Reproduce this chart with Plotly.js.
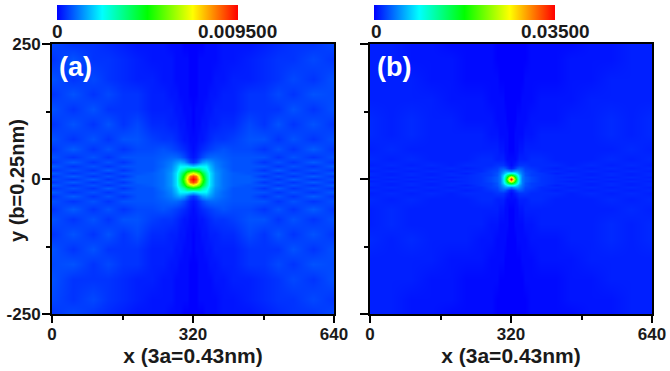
<!DOCTYPE html>
<html>
<head>
<meta charset="utf-8">
<script src="https://cdn.plot.ly/plotly-3.0.1.min.js"></script>
<style>html,body{margin:0;padding:0;background:#fff}</style>
</head>
<body>
<div id="myDiv" style="width:670px;height:371px"></div>
<script>
var tickX = [0, 320, 640];
var tickY = [-250, 0, 250];
var tickYLabels = ['-250', '0', '250'];
var minorX = [160, 480];
var minorY = [-125, 125];
var xTitle = 'x (3a=0.43nm)';
var yTitle = 'y (b=0.25nm)';

var scaleMaxA = 0.0095;
var scaleMaxB = 0.035;
var scaleLabelsA = ['0', '0.009500'];
var scaleLabelsB = ['0', '0.03500'];

// grid is finer near the centre spot
var xA = [0,47,93,127,160,193,227,252,270,281,290,300,306,313,320,327,334,340,350,359,370,388,411,447,480,513,547,593,640];
var yA = [-250,-222,-185,-157,-130,-102,-74,-56,-41,-31,-24,-17,-11,-6,0,6,11,17,24,31,41,56,74,102,130,157,185,222,250];

// percent of the colour bar, bottom row first
var zA = [
[5,7,5,4,3,2,2,2,1,1,1,0,0,0,0,0,0,0,1,1,1,2,2,2,3,4,5,5,7],
[7,5,7,5,4,3,2,2,2,1,1,1,1,0,0,0,1,1,1,1,1,2,2,3,4,5,5,7,5],
[8,5,5,5,4,3,3,2,2,1,1,1,1,0,0,0,1,1,1,1,2,2,3,3,4,5,7,5,8],
[7,8,5,7,5,5,3,3,2,2,1,1,1,0,0,0,1,1,1,2,2,3,3,5,5,7,5,8,7],
[8,5,8,5,5,5,3,3,3,2,2,1,1,1,0,1,1,1,2,2,3,3,3,5,5,5,8,5,8],
[5,8,5,8,5,7,4,4,3,3,2,2,1,1,0,1,1,2,2,3,3,4,4,7,5,8,5,8,5],
[8,5,8,5,8,8,6,5,5,4,3,2,2,1,1,1,2,2,3,4,5,5,6,8,8,5,8,5,8],
[5,9,5,8,5,7,7,8,7,6,5,4,3,2,1,2,3,4,5,6,7,8,7,7,5,8,5,9,5],
[8,5,8,5,8,8,8,9,10,10,9,7,5,3,2,3,5,7,9,10,10,9,8,8,8,5,8,5,8],
[5,9,5,8,5,8,8,10,12,15,17,15,11,7,5,7,11,15,17,15,12,10,8,8,5,8,5,9,5],
[9,5,8,5,8,8,8,10,13,18,24,24,24,22,20,22,24,24,24,18,13,10,8,8,8,5,8,5,9],
[5,8,5,9,5,8,8,11,14,20,28,34,42,46,48,46,42,34,28,20,14,11,8,8,5,9,5,8,5],
[9,5,8,5,8,8,9,11,15,22,33,46,60,68,74,68,60,46,33,22,15,11,9,8,8,5,8,5,9],
[5,9,5,8,5,9,9,11,15,22,36,54,72,88,94,88,72,54,36,22,15,11,9,9,5,8,5,9,5],
[8,5,9,5,8,9,9,11,15,22,38,58,78,94,100,94,78,58,38,22,15,11,9,9,8,5,9,5,8],
[5,9,5,8,5,9,9,11,15,22,36,54,72,88,94,88,72,54,36,22,15,11,9,9,5,8,5,9,5],
[9,5,8,5,8,8,9,11,15,22,33,46,60,68,74,68,60,46,33,22,15,11,9,8,8,5,8,5,9],
[5,8,5,9,5,8,8,11,14,20,28,34,42,46,48,46,42,34,28,20,14,11,8,8,5,9,5,8,5],
[9,5,8,5,8,8,8,10,13,18,24,24,24,22,20,22,24,24,24,18,13,10,8,8,8,5,8,5,9],
[5,9,5,8,5,8,8,10,12,15,17,15,11,7,5,7,11,15,17,15,12,10,8,8,5,8,5,9,5],
[8,5,8,5,8,8,8,9,10,10,9,7,5,3,2,3,5,7,9,10,10,9,8,8,8,5,8,5,8],
[5,9,5,8,5,7,7,8,7,6,5,4,3,2,1,2,3,4,5,6,7,8,7,7,5,8,5,9,5],
[8,5,8,5,8,8,6,5,5,4,3,2,2,1,1,1,2,2,3,4,5,5,6,8,8,5,8,5,8],
[5,8,5,8,5,7,4,4,3,3,2,2,1,1,0,1,1,2,2,3,3,4,4,7,5,8,5,8,5],
[8,5,8,5,5,5,3,3,3,2,2,1,1,1,0,1,1,1,2,2,3,3,3,5,5,5,8,5,8],
[5,8,5,7,5,5,3,3,2,2,1,1,1,0,0,0,1,1,1,2,2,3,3,5,5,7,5,8,7],
[8,5,7,5,4,3,3,2,2,1,1,1,1,0,0,0,1,1,1,1,2,2,3,3,4,5,7,5,8],
[5,8,5,5,4,3,2,2,2,1,1,1,1,0,0,0,1,1,1,1,1,2,2,3,4,5,5,7,5],
[7,5,5,4,3,2,2,2,1,1,1,0,0,0,0,0,0,0,1,1,1,2,2,2,3,4,5,5,7]
];

var xB = [0,47,93,138,184,218,252,275,288,295,302,306,311,315,320,325,329,334,338,345,352,365,388,422,456,502,547,593,640];
var yB = [-250,-222,-185,-148,-111,-83,-56,-37,-26,-20,-15,-11,-7,-4,0,4,7,11,15,20,26,37,56,83,111,148,185,222,250];

var zB = [
[3,3,2,2,1,1,1,1,0,0,0,0,0,0,0,0,0,0,0,0,0,1,1,1,1,2,2,3,3],
[3,3,2,2,2,1,1,1,0,0,0,0,0,0,0,0,0,0,0,0,0,1,1,1,2,2,2,3,3],
[3,3,3,2,2,1,1,1,1,0,0,0,0,0,0,0,0,0,0,0,1,1,1,1,2,2,3,3,3],
[3,3,3,3,2,2,2,1,1,1,1,0,0,0,0,0,0,0,0,1,1,1,2,2,2,3,3,3,3],
[4,3,4,3,3,3,2,2,1,1,1,1,0,0,0,0,0,1,1,1,1,2,2,2,3,3,4,3,4],
[3,4,3,3,3,3,3,2,2,1,1,1,1,0,0,0,1,1,1,1,2,2,3,3,3,3,4,3,4],
[3,4,3,3,3,3,3,3,3,2,2,1,1,0,0,0,1,1,2,2,3,3,3,3,3,3,3,4,3],
[4,3,4,3,3,3,4,4,3,3,3,2,1,1,1,1,1,2,3,3,3,4,4,3,3,3,4,3,4],
[3,4,3,4,3,4,4,4,5,5,5,4,3,2,1,2,3,4,5,5,5,4,4,4,3,4,3,4,3],
[4,3,4,3,4,3,4,5,6,8,9,8,6,4,3,4,6,8,9,8,6,5,4,3,4,3,4,3,4],
[3,4,3,4,3,4,4,6,7,10,13,15,15,14,12,14,15,15,13,10,7,6,4,4,3,4,3,4,3],
[4,3,4,3,4,3,5,6,8,11,16,20,24,27,28,27,24,20,16,11,8,6,5,3,4,3,4,3,4],
[4,3,4,3,4,4,5,6,8,12,20,28,38,46,52,46,38,28,20,12,8,6,5,4,4,3,4,3,4],
[3,4,3,4,3,4,5,7,9,12,22,34,50,68,80,68,50,34,22,12,9,7,5,4,3,4,3,4,3],
[4,3,4,3,4,4,5,7,9,12,22,38,58,80,100,80,58,38,22,12,9,7,5,4,4,3,4,3,4],
[3,4,3,4,3,4,5,7,9,12,22,34,50,68,80,68,50,34,22,12,9,7,5,4,3,4,3,4,3],
[4,3,4,3,4,4,5,6,8,12,20,28,38,46,52,46,38,28,20,12,8,6,5,4,4,3,4,3,4],
[4,3,4,3,4,3,5,6,8,11,16,20,24,27,28,27,24,20,16,11,8,6,5,3,4,3,4,3,4],
[3,4,3,4,3,4,4,6,7,10,13,15,15,14,12,14,15,15,13,10,7,6,4,4,3,4,3,4,3],
[4,3,4,3,4,3,4,5,6,8,9,8,6,4,3,4,6,8,9,8,6,5,4,3,4,3,4,3,4],
[3,4,3,4,3,4,4,4,5,5,5,4,3,2,1,2,3,4,5,5,5,4,4,4,3,4,3,4,3],
[4,3,4,3,3,3,4,4,3,3,3,2,1,1,1,1,1,2,3,3,3,4,4,3,3,3,4,3,4],
[3,4,3,3,3,3,3,3,3,2,2,1,1,0,0,0,1,1,2,2,3,3,3,3,3,3,3,4,3],
[4,3,4,3,3,3,3,2,2,1,1,1,1,0,0,0,1,1,1,1,2,2,3,3,3,3,4,3,4],
[4,3,4,3,3,2,2,2,1,1,1,1,0,0,0,0,0,1,1,1,1,2,2,2,3,3,4,3,4],
[3,3,3,3,2,2,2,1,1,1,1,0,0,0,0,0,0,0,0,1,1,1,2,2,2,3,3,3,3],
[3,3,3,2,2,1,1,1,1,0,0,0,0,0,0,0,0,0,0,0,1,1,1,1,2,2,3,3,3],
[3,3,2,2,2,1,1,1,0,0,0,0,0,0,0,0,0,0,0,0,0,1,1,1,2,2,2,3,3],
[3,3,2,2,1,1,1,1,0,0,0,0,0,0,0,0,0,0,0,0,0,1,1,1,1,2,2,3,3]
];

var rainbow = [[0, 'rgb(0,0,255)'], [0.25, 'rgb(0,255,255)'], [0.5, 'rgb(0,255,0)'], [0.75, 'rgb(255,255,0)'], [1, 'rgb(255,0,0)']];
var fontName = '"Liberation Sans", Arial, sans-serif';
var textColor = '#1a1a1a';
var boldTicks = {family: fontName, size: 17, color: textColor, weight: 'bold'};

function toValues(rows, scaleMax) {
  return rows.map(function (row) {
    return row.map(function (v) { return v * scaleMax / 100; });
  });
}

function heatTrace(x, y, z, scaleMax, barLeft, xa, ya) {
  return {
    type: 'heatmap',
    x: x,
    y: y,
    z: toValues(z, scaleMax),
    xaxis: xa,
    yaxis: ya,
    zmin: 0,
    zmax: scaleMax,
    zsmooth: 'best',
    colorscale: rainbow,
    hoverinfo: 'skip',
    colorbar: {
      orientation: 'h',
      xref: 'container',
      yref: 'container',
      x: barLeft,
      xanchor: 'left',
      y: 1 - 5 / 371,
      yanchor: 'top',
      lenmode: 'pixels',
      len: 181,
      thickness: 15,
      xpad: 0,
      ypad: 0,
      outlinewidth: 0,
      ticks: '',
      showticklabels: false
    }
  };
}

function xAxis(domain, anchor) {
  return {
    domain: domain,
    anchor: anchor,
    range: [0, 640],
    tickmode: 'array',
    tickvals: tickX,
    ticks: 'outside',
    ticklen: 7,
    tickwidth: 2,
    tickcolor: '#000',
    ticklabelstandoff: -3,
    minor: {tickmode: 'array', tickvals: minorX, ticks: 'outside', ticklen: 4, tickwidth: 2, tickcolor: '#000'},
    showline: true,
    mirror: true,
    linecolor: '#000',
    linewidth: 2,
    showgrid: false,
    zeroline: false,
    tickfont: boldTicks,
    title: {text: '<b>' + xTitle + '</b>', standoff: 0, font: {family: fontName, size: 21, color: textColor}}
  };
}

function yAxis(anchor, showLabels) {
  return {
    domain: [0, 1],
    anchor: anchor,
    range: [-250, 250],
    tickmode: 'array',
    tickvals: tickY,
    ticktext: tickYLabels,
    ticks: 'outside',
    ticklen: 8,
    tickwidth: 2,
    tickcolor: '#000',
    ticklabelstandoff: -2,
    minor: {tickmode: 'array', tickvals: minorY, ticks: 'outside', ticklen: 4, tickwidth: 2, tickcolor: '#000'},
    showline: true,
    mirror: true,
    linecolor: '#000',
    linewidth: 2,
    showgrid: false,
    zeroline: false,
    showticklabels: showLabels,
    tickfont: boldTicks
  };
}

// paper coordinates for a spot given in page pixels
function paperX(px) { return (px - 52) / 600; }
function paperY(py) { return (314 - py) / 270; }

function scaleLabel(text, px) {
  return {
    text: '<b>' + text + '</b>', xref: 'paper', yref: 'paper', x: paperX(px), y: paperY(31),
    xanchor: 'center', yanchor: 'middle', showarrow: false,
    font: {family: fontName, size: 19, color: textColor}
  };
}

var data = [
  heatTrace(xA, yA, zA, scaleMaxA, 57 / 600, 'x', 'y'),
  heatTrace(xB, yB, zB, scaleMaxB, 374 / 600, 'x2', 'y2')
];

var layout = {
  width: 670,
  height: 371,
  margin: {l: 52, r: 18, t: 44, b: 57},
  paper_bgcolor: '#fff',
  plot_bgcolor: '#fff',
  font: {family: fontName, size: 17, color: textColor},
  showlegend: false,
  xaxis: xAxis([0, 282 / 600], 'y'),
  yaxis: yAxis('x', true),
  xaxis2: xAxis([318 / 600, 1], 'y2'),
  yaxis2: yAxis('x2', false),
  annotations: [
    scaleLabel(scaleLabelsA[0], 57),
    scaleLabel(scaleLabelsA[1], 237),
    scaleLabel(scaleLabelsB[0], 376),
    scaleLabel(scaleLabelsB[1], 555),
    {text: '<b>' + yTitle + '</b>', xref: 'paper', yref: 'paper', x: paperX(17), y: paperY(181), textangle: -90, xanchor: 'center', yanchor: 'middle', showarrow: false, font: {family: fontName, size: 20, color: textColor}},
    {text: '<b>(a)</b>', xref: 'x', yref: 'y', x: 12, y: 238, xanchor: 'left', yanchor: 'top', showarrow: false, font: {family: fontName, size: 27, color: '#fff'}},
    {text: '<b>(b)</b>', xref: 'x2', yref: 'y2', x: 12, y: 238, xanchor: 'left', yanchor: 'top', showarrow: false, font: {family: fontName, size: 27, color: '#fff'}}
  ]
};

Plotly.newPlot('myDiv', data, layout, {displayModeBar: false});
</script>
</body>
</html>
